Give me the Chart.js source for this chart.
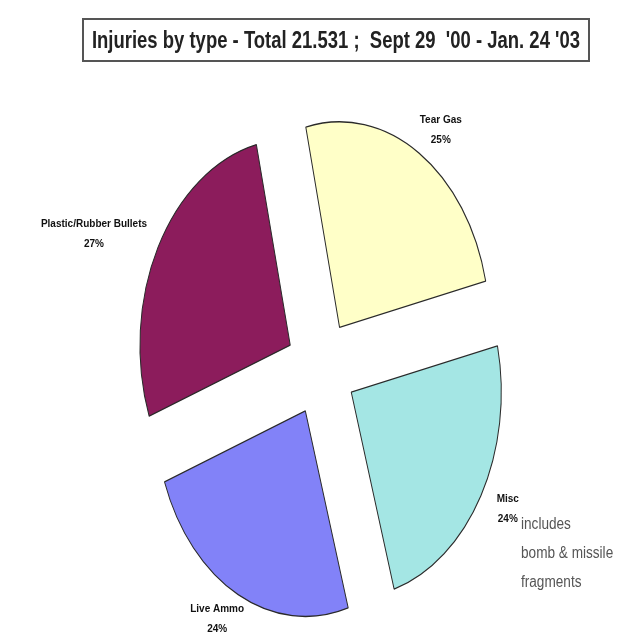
<!DOCTYPE html>
<html lang="en">
<head>
    <meta charset="UTF-8">
    <title>Injuries by type</title>
    <script src="https://cdn.jsdelivr.net/npm/chart.js"></script>
    <style>
        body {
            margin: 0;
            background: #fff;
            font-family: 'Liberation Sans', Arial, sans-serif;
        }
        #wrap {
            position: relative;
            width: 626px;
            height: 635px;
        }
        #pie {
            position: absolute;
            left: 0;
            top: 0;
        }
        #title {
            position: absolute;
            left: 82px;
            top: 18px;
            width: 504px;
            height: 40px;
            border: 2px solid #555;
            text-align: center;
            white-space: nowrap;
            overflow: hidden;
        }
        #title span {
            display: inline-block;
            font-weight: bold;
            font-size: 24px;
            line-height: 40px;
            color: #222;
            transform: scaleX(0.77);
            transform-origin: center;
            margin: 0 -80px;
        }
        #note {
            position: absolute;
            left: 521px;
            top: 509px;
            font-size: 16px;
            line-height: 29px;
            color: #555;
            white-space: nowrap;
            transform: scaleX(0.85);
            transform-origin: left top;
        }
    </style>
</head>
<body>
<div id="wrap">
    <canvas id="pie" width="626" height="635"></canvas>
    <div id="title"><span>Injuries by type - Total 21.531 ;&nbsp; Sept 29 &nbsp;'00 - Jan. 24 '03</span></div>
    <div id="note">includes<br>bomb &amp; missile<br>fragments</div>
</div>

<script>
    // data
    const categories = ['Tear Gas', 'Misc', 'Live Ammo', 'Plastic/Rubber Bullets'];
    const shares = [25, 24, 24, 27];
    const sliceColors = ['#FFFFC8', '#A4E6E4', '#8282F8', '#8C1C5C'];

    // the original pie is drawn squashed (taller than wide)
    const stretchY = 1.37;

    const squash = {
        id: 'squash',
        beforeDatasetsDraw(chart) {
            const a = chart.getDatasetMeta(0).data[0];
            const ctx = chart.ctx;
            ctx.save();
            ctx.translate(a.x, a.y);
            ctx.scale(1, stretchY);
            ctx.translate(-a.x, -a.y);
        },
        afterDatasetsDraw(chart) {
            chart.ctx.restore();
        }
    };

    // slice labels outside each wedge
    const sliceLabels = {
        id: 'sliceLabels',
        afterDatasetsDraw(chart) {
            const ctx = chart.ctx;
            const arcs = chart.getDatasetMeta(0).data;
            ctx.save();
            ctx.font = 'bold 10px "Liberation Sans", Arial, sans-serif';
            ctx.fillStyle = '#111';
            ctx.textAlign = 'center';
            ctx.textBaseline = 'middle';
            arcs.forEach((arc, i) => {
                const mid = (arc.startAngle + arc.endAngle) / 2;
                const d = arc.outerRadius + 55;
                const x = arc.x + Math.cos(mid) * d;
                const y = arc.y + Math.sin(mid) * d * stretchY;
                const lines = [categories[i], shares[i] + '%'];
                const w = Math.max(...lines.map(t => ctx.measureText(t).width));
                const cx = x + Math.cos(mid) * w / 2;
                ctx.fillText(lines[0], cx, y - 10);
                ctx.fillText(lines[1], cx, y + 10);
            });
            ctx.restore();
        }
    };

    new Chart(document.getElementById('pie'), {
        type: 'pie',
        data: {
            labels: categories,
            datasets: [{
                data: shares,
                backgroundColor: sliceColors,
                borderColor: '#2a2a2a',
                borderWidth: 1,
                offset: 140   // chart.js moves a slice by offset / 4
            }]
        },
        options: {
            responsive: false,
            animation: false,
            rotation: -13,
            radius: 150,
            layout: { padding: { left: 16, right: 0, top: 101, bottom: 0 } },
            plugins: {
                legend: { display: false },
                tooltip: { enabled: false }
            }
        },
        plugins: [squash, sliceLabels]
    });
</script>
</body>
</html>
